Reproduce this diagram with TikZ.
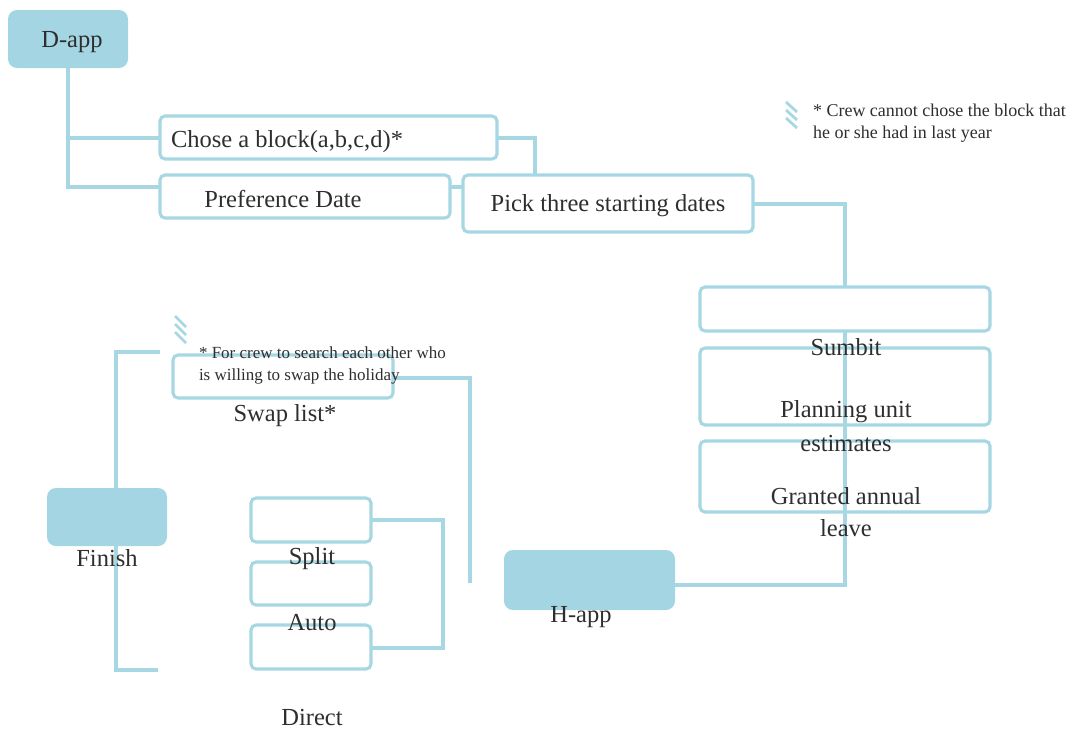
\documentclass[tikz,border=0pt]{standalone}
\usepackage{fontspec}
\setmainfont{Liberation Serif}
\begin{document}
\begin{tikzpicture}[x=1pt,y=-1pt,
  every node/.style={inner sep=0pt, outer sep=0pt},
  link/.style={draw=lineblue, line width=3.1pt},
  framebox/.style={draw=lineblue, line width=3.1pt, rounded corners=5pt, fill=none, anchor=north west},
  solidbox/.style={fill=fillblue, rounded corners=9pt, anchor=north west},
  txt/.style={text=ink, font=\fontsize{24.5}{27}\selectfont},
  note/.style={text=ink, align=left, anchor=north west},
  hatch/.style={draw=lineblue, line width=2.8pt}]
\definecolor{lineblue}{HTML}{A6D7E2}
\definecolor{fillblue}{HTML}{A3D6E2}
\definecolor{ink}{HTML}{2E2E2E}
\useasboundingbox (0,0) rectangle (1076,729);

% ---- filled start / end boxes
\node[solidbox, minimum width=120pt, minimum height=58pt] (dapp) at (8,10) {};
\node[txt] at (72,42) {D-app};
\node[solidbox, minimum width=171pt, minimum height=60pt] (happ) at (504,550) {};
\node[solidbox, minimum width=120pt, minimum height=58pt] (finish) at (47,488) {};

% ---- outlined boxes
\node[framebox, minimum width=337pt, minimum height=43pt] (chose) at (160,116) {};
\node[framebox, minimum width=290pt, minimum height=43pt] (pref) at (160,175) {};
\node[framebox, minimum width=290pt, minimum height=57pt] (pick) at (463,175) {};
\node[framebox, minimum width=290pt, minimum height=44pt] (submit) at (700,287) {};
\node[framebox, minimum width=290pt, minimum height=77pt] (plan) at (700,348) {};
\node[framebox, minimum width=290pt, minimum height=71pt] (grant) at (700,441) {};
\node[framebox, minimum width=220pt, minimum height=43pt] (swap) at (173,355) {};
\node[framebox, minimum width=120pt, minimum height=44pt] (split) at (251,498) {};
\node[framebox, minimum width=120pt, minimum height=43pt] (auto) at (251,562) {};
\node[framebox, minimum width=120pt, minimum height=44pt] (direct) at (251,625) {};

% ---- free ends of the connectors
\coordinate (dtrunk) at (68,187);
\coordinate (swapend) at (470,583);
\coordinate (fintop) at (160,352);
\coordinate (finbot) at (158,670);

% ---- connectors
\draw[link] (dapp.south -| dtrunk) -- (dtrunk) -- (pref.west |- dtrunk);
\draw[link] (68,138) -- (chose.west |- 0,138);
\draw[link] (chose.east |- 0,138) -- (535,138) -- (pick.north -| 535,0);
\draw[link] (pref.east |- 0,187) -- (pick.west |- 0,187);
\draw[link] (pick.east |- 0,204) -- (submit.north |- 0,204) -- (submit.north);
\draw[link] (submit.south) -- (submit.south |- 0,585) -- (happ.east |- 0,585);
\draw[link] (swap.east |- 0,378) -- (470,378) -- (swapend);
\draw[link] (fintop) -- (116,352) -- (finish.north -| 116,0);
\draw[link] (finish.south -| 116,0) -- (116,670) -- (finbot);
\draw[link] (split.east) -- (443,0 |- split.east) -- (443,648) -- (direct.east |- 0,648);

% ---- hatch marks beside the notes
\foreach \k in {0,8,16} {
  \draw[hatch] (786,102+\k) -- (797,112+\k);
  \draw[hatch] (175,316+\k) -- (186,327+\k);
}

% ---- box texts
\node[txt, anchor=west] (tchose) at (171,142) {Chose a block(a,b,c,d)*};
\node[txt] (tpref) at (283,199) {Preference Date};
\node[txt] (tpick) at (608,206) {Pick three starting dates};
\node[txt] (tsubmit) at (846,347) {Sumbit};
\node[txt] (tplan1) at (846,412) {Planning unit};
\node[txt] (tplan2) at (846,443) {estimates};
\node[txt] (tgrant1) at (846,496) {Granted annual};
\node[txt] (tgrant2) at (846,528) {leave};
\node[txt] (tswap) at (285,416) {Swap list*};
\node[txt] (tfinish) at (107,558) {Finish};
\node[txt] (thapp) at (581,617) {H-app};
\node[txt] (tsplit) at (312,559) {Split};
\node[txt] (tauto) at (312,623) {Auto};
\node[txt] (tdirect) at (312,717) {Direct};

% ---- notes
\node[note, font=\fontsize{18}{22}\selectfont] (note1) at (813,104) {* Crew cannot chose the block that\\he or she had in last year};
\node[note, font=\fontsize{17}{22}\selectfont] (note2) at (199,347) {* For crew to search each other who\\is willing to swap the holiday};
\end{tikzpicture}
\end{document}
